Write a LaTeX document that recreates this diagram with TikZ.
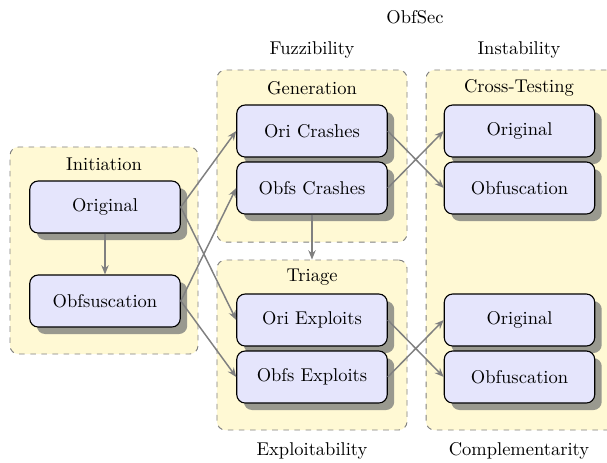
\documentclass[tikz,border=0pt]{standalone}
\usetikzlibrary{shadows,arrows.meta}
\definecolor{contfill}{RGB}{255,249,212}
\definecolor{boxfill}{RGB}{229,229,252}
\definecolor{shadowc}{RGB}{153,153,143}
\begin{document}
\begin{tikzpicture}[x=0.5405pt,y=-0.5405pt,
  container/.style={draw=gray, dashed, fill=contfill, rounded corners=4.5pt, inner sep=0pt, line width=0.5pt},
  stage/.style={draw=black, fill=boxfill, rounded corners=4.5pt, inner sep=0pt,
    minimum width=81.3pt, minimum height=28.1pt, line width=0.6pt,
    drop shadow={shadow xshift=3.8pt, shadow yshift=-3.8pt, opacity=1, fill=shadowc}},
  flow/.style={draw=gray, line width=0.8pt, -{Stealth[length=5pt,width=4pt]}},
  lbl/.style={inner sep=0pt}]
\useasboundingbox (0,0) rectangle (607,462);
% containers
\node[container, minimum width=101.6pt, minimum height=111.9pt] (init) at (104,250.5) {};
\node[container, minimum width=102.7pt, minimum height=93pt] (gen) at (312,156) {};
\node[container, minimum width=102.7pt, minimum height=91.9pt] (tri) at (312,345) {};
\node[container, minimum width=108pt, minimum height=194.6pt] (cross) at (526,250) {};
% labels
\node[lbl] (title) at (415,17) {ObfSec};
\node[lbl] (fuzz) at (312,50) {Fuzzibility};
\node[lbl] (inst) at (519,50) {Instability};
\node[lbl] (expl) at (312,451) {Exploitability};
\node[lbl] (compl) at (519,451) {Complementarity};
\node[lbl] (initl) at (104,164) {Initiation};
\node[lbl] (genl) at (312,88) {Generation};
\node[lbl] (tril) at (312,277) {Triage};
\node[lbl] (crossl) at (519,88) {Cross-Testing};
% stage boxes
\node[stage] (orig) at (105,207) {Original};
\node[stage] (obf) at (105,301) {Obfsuscation};
\node[stage] (oc) at (312,131) {Ori Crashes};
\node[stage] (bc) at (312,188) {Obfs Crashes};
\node[stage] (oe) at (312,320) {Ori Exploits};
\node[stage] (be) at (312,377) {Obfs Exploits};
\node[stage] (co1) at (519.5,131) {Original};
\node[stage] (cb1) at (519.5,188) {Obfuscation};
\node[stage] (co2) at (519.5,320) {Original};
\node[stage] (cb2) at (519.5,377) {Obfuscation};
% connectors
\draw[flow] (orig.south) -- (obf.north);
\draw[flow] (orig.east) -- (oc.west);
\draw[flow] (orig.east) -- (oe.west);
\draw[flow] (obf.east) -- (bc.west);
\draw[flow] (obf.east) -- (be.west);
\draw[flow] (bc.south) -- (tri.north);
\draw[flow] (oc.east) -- (cb1.west);
\draw[flow] (bc.east) -- (co1.west);
\draw[flow] (oe.east) -- (cb2.west);
\draw[flow] (be.east) -- (co2.west);
\end{tikzpicture}
\end{document}
